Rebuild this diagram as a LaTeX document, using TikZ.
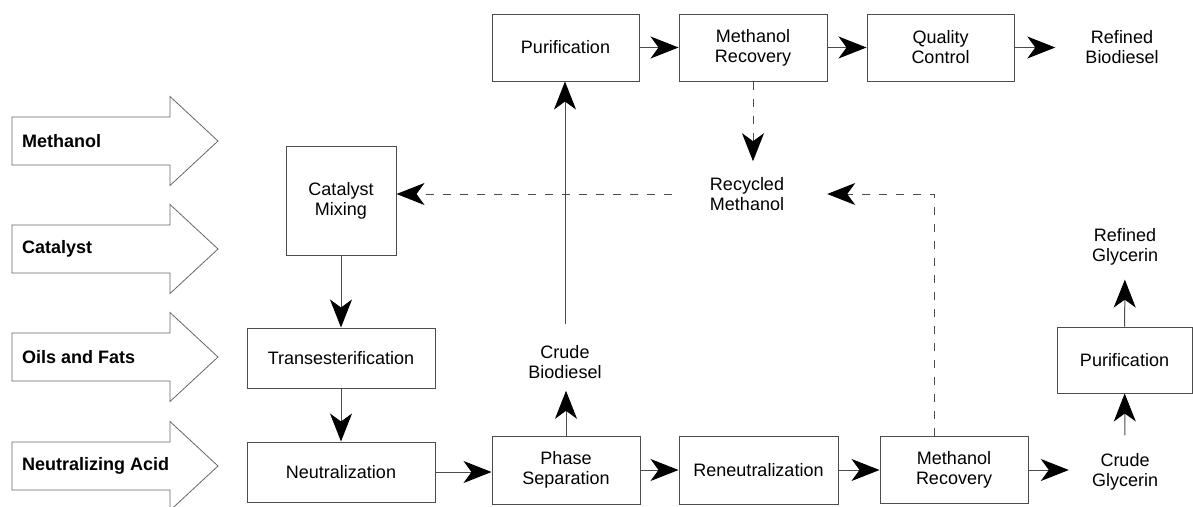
\documentclass[tikz,border=0pt]{standalone}
\usepackage{fontspec}
\setmainfont{Liberation Sans}
\usetikzlibrary{arrows.meta, positioning}
\tikzset{
    %Define standard arrow tip
    >={Stealth[length=28pt, width=22pt, inset=8pt, color=black]},
    %Define style for process boxes
    proc/.style={
           rectangle,
           draw=black!70, line width=1pt,
           align=center,
           inner sep=2pt},
    %plain text labels
    lbl/.style={
           align=center,
           inner sep=2pt},
    %feed arrows on the left
    feed/.style={draw=black!60, line width=0.8pt},
    feedlbl/.style={anchor=west, font=\fontsize{18}{20}\selectfont\bfseries, inner sep=0pt},
    % Define arrow styles
    pil/.style={
           ->,
           draw=black!70,
           line width=1pt},
    dpil/.style={
           pil,
           dash pattern=on 8pt off 9pt}
}

\begin{document}
\begin{tikzpicture}[x=1pt, y=-1pt, font=\fontsize{18}{20}\selectfont]
\useasboundingbox (0,0) rectangle (1193,506);

% feed streams
\foreach \lab/\yy [count=\i] in {Methanol/141, Catalyst/249, Oils and Fats/357, Neutralizing Acid/466}{
  \draw[feed] (12,\yy-24) -- (170,\yy-24) -- (170,\yy-44.5) -- (218,\yy)
       -- (170,\yy+44.5) -- (170,\yy+24) -- (12,\yy+24) -- cycle;
  \node[feedlbl] (in\i) at (22,\yy) {\lab};
}

% biodiesel line
\node[proc, minimum width=147pt, minimum height=67pt] (pur) at (565.5,47.5) {Purification};
\node[proc, minimum width=148pt, minimum height=67pt] (mrec) at (753,47.5) {Methanol\\Recovery};
\node[proc, minimum width=147pt, minimum height=67pt] (qc) at (940.5,47.5) {Quality\\Control};
\node[lbl] (refbio) at (1122,47) {Refined\\Biodiesel};
\node[lbl] (recmeth) at (747,194) {Recycled\\Methanol};

% main process
\node[proc, minimum width=110pt, minimum height=109pt] (catmix) at (341,200.5) {Catalyst\\Mixing};
\node[proc, minimum width=188pt, minimum height=60pt] (trans) at (341,358) {Transesterification};
\node[proc, minimum width=188pt, minimum height=60pt] (neut) at (341,472) {Neutralization};
\node[proc, minimum width=148pt, minimum height=68pt] (phase) at (566,470) {Phase\\Separation};
\node[lbl] (crudebio) at (565,362) {Crude\\Biodiesel};
\node[proc, minimum width=159pt, minimum height=68pt] (reneut) at (758.5,470) {Reneutralization};
\node[proc, minimum width=148pt, minimum height=67pt] (mrecb) at (954,470) {Methanol\\Recovery};

% glycerin line
\node[lbl] (crudegly) at (1125,472) {Crude\\Glycerin};
\node[proc, minimum width=135pt, minimum height=66pt] (purb) at (1124.5,360) {Purification};
\node[lbl] (refgly) at (1125,247) {Refined\\Glycerin};

\draw[pil] (pur) -- (mrec);
\draw[pil] (mrec) -- (qc);
\draw[pil, shorten >=28pt] (qc) -- (refbio.west |- qc);
\draw[dpil, shorten >=14pt] (mrec.south) -- (mrec.south |- recmeth.north);
\draw[dpil, shorten >=41pt] ([xshift=-20pt]mrecb.north) |- (recmeth.east);
\draw[dpil, shorten <=36pt] (recmeth.west) -- (recmeth.west -| catmix.east);
\draw[pil] (catmix) -- (trans);
\draw[pil] (trans) -- (neut);
\draw[pil] (neut.east) -- (neut.east -| phase.west);
\draw[pil, shorten >=10pt] (phase.north) -- (phase.north |- crudebio.south);
\draw[pil, shorten <=19pt] (crudebio.north) -- (crudebio.north |- pur.south);
\draw[pil] (phase) -- (reneut);
\draw[pil] (reneut) -- (mrecb);
\draw[pil, shorten >=21pt] (mrecb.east) -- (mrecb.east -| crudegly.west);
\draw[pil, shorten <=16pt] (crudegly) -- (purb);
\draw[pil, shorten >=12pt] (purb) -- (refgly);

\end{tikzpicture}
\end{document}
